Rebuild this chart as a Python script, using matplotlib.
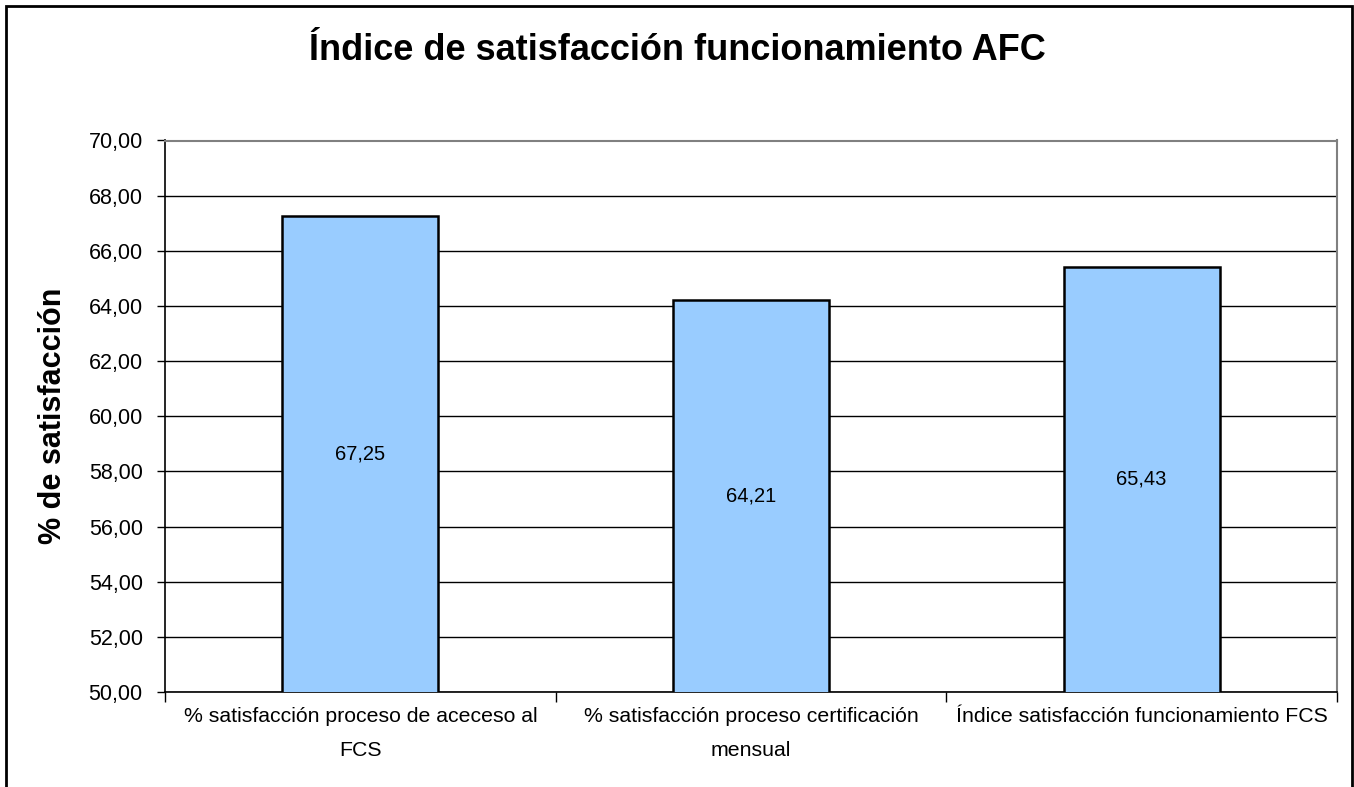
import matplotlib.pyplot as plt
from matplotlib.ticker import FuncFormatter, MultipleLocator
from matplotlib.patches import Rectangle

categorias = ["% satisfacción proceso de aceceso al\nFCS",
              "% satisfacción proceso certificación\nmensual",
              "Índice satisfacción funcionamiento FCS"]
valores = [67.25, 64.21, 65.43]
titulo = "Índice de satisfacción funcionamiento AFC"
etiqueta_y = "% de satisfacción"

plt.rcParams['font.family'] = ['Liberation Sans', 'DejaVu Sans']

fig = plt.figure(figsize=(13.54, 7.87), dpi=100)
ax = fig.add_axes([165 / 1354, 95 / 787, 1172 / 1354, 551.5 / 787])

x = range(len(categorias))
barras = ax.bar(x, valores, width=0.4, color='#99CCFF', edgecolor='black',
                linewidth=1.8, zorder=3)
ax.bar_label(barras, labels=[f"{v:.2f}".replace('.', ',') for v in valores],
             label_type='center', fontsize=14.5)

ax.set_ylim(50, 70)
ax.set_xlim(-0.5, len(categorias) - 0.5)
ax.yaxis.set_major_locator(MultipleLocator(2))
ax.yaxis.set_major_formatter(FuncFormatter(lambda v, p: f"{v:.2f}".replace('.', ',')))
ax.grid(axis='y', color='black', linewidth=1, zorder=0)

ax.set_xticks(list(x))
ax.set_xticklabels(categorias, fontsize=15.3, linespacing=2.0)
ax.set_xticks([i - 0.5 for i in range(len(categorias) + 1)], minor=True)
ax.tick_params(axis='x', which='major', length=0, pad=11)
ax.tick_params(axis='x', which='minor', length=7, width=1)
ax.tick_params(axis='y', labelsize=15.5, length=6, width=1, pad=10)

for lado in ['top', 'right']:
    ax.spines[lado].set_color('#808080')
    ax.spines[lado].set_linewidth(1.5)
for lado in ['left', 'bottom']:
    ax.spines[lado].set_color('black')
    ax.spines[lado].set_linewidth(1.2)

ax.set_ylabel(etiqueta_y, fontsize=22, fontweight='bold', labelpad=15)
fig.suptitle(titulo, fontsize=26, fontweight='bold', y=1 - 50 / 787, va='center')

borde = Rectangle((6 / 1354, -0.05), 1346 / 1354, 1.05 - 6 / 787,
                  transform=fig.transFigure, fill=False, edgecolor='black',
                  linewidth=2)
fig.patches.append(borde)

fig.savefig("out.png", dpi=100)
